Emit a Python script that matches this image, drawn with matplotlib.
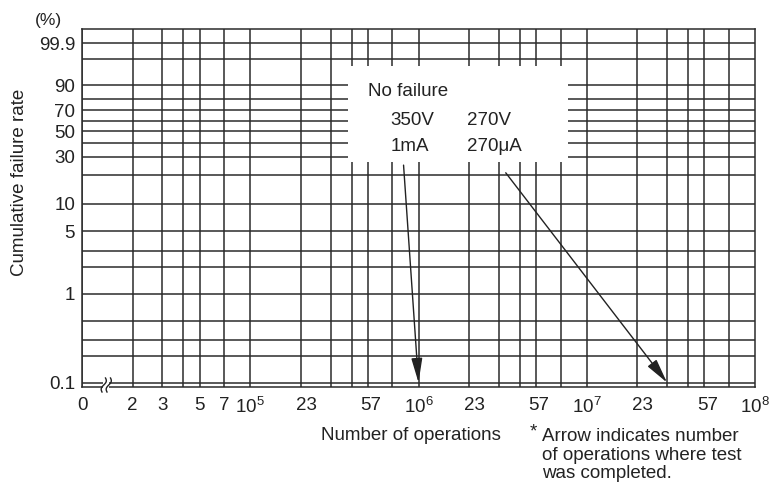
import numpy as np
import matplotlib
matplotlib.use("Agg")
import matplotlib.pyplot as plt
from matplotlib.patches import Rectangle
from matplotlib.ticker import NullLocator

plt.rcParams['font.family'] = ['Liberation Sans', 'DejaVu Sans']
plt.rcParams['mathtext.fontset'] = 'custom'
plt.rcParams['mathtext.rm'] = 'Liberation Sans'
plt.rcParams['mathtext.it'] = 'Liberation Sans:italic'

# y axis: cumulative failure rate (%), Weibull probability paper
y_grid = [99.9, 99, 90, 80, 70, 60, 50, 40, 30, 20, 10, 5, 3, 2, 1, 0.5, 0.3, 0.2, 0.1]
y_labeled = [99.9, 90, 70, 50, 30, 10, 5, 1, 0.1]
y_limits = (0.089, 99.9953)

# x axis: number of operations (log), grid at 1,2,3,4,5,7 per decade
decades = [1e4, 1e5, 1e6, 1e7]
grid_mult = [2, 3, 4, 5, 7]
x_limits = (1e4, 1e8)
x_tick_pos = [1e4, 2e4, 3e4, 5e4, 7e4, 1e5, 2.15e5, 5.2e5, 1e6, 2.15e6, 5.2e6,
              1e7, 2.15e7, 5.2e7, 1e8]
x_tick_txt = ["0", "2", "3", "5", "7", r"$\mathregular{10^5}$", "23", "57",
              r"$\mathregular{10^6}$", "23", "57", r"$\mathregular{10^7}$", "23", "57",
              r"$\mathregular{10^8}$"]

# arrows: (start x, start %) -> (end x, end %)
arrow_start = [(8.15e5, 25), (3.3e6, 21)]
arrow_end = [(1e6, 0.1), (3e7, 0.1)]


def weibull(p):
    p = np.clip(np.asarray(p, dtype=float), 1e-6, 100 - 1e-7)
    return np.log(-np.log(1 - p / 100))


def weibull_inv(y):
    return 100 * (1 - np.exp(-np.exp(y)))


W, H = 770, 487
LINE = '#2b2b2b'
FS = 13.5

fig = plt.figure(figsize=(7.7, 4.87), dpi=100)
ax = fig.add_axes([82 / W, 100 / H, 673 / W, 358 / H])
ax.set_xscale('log')
ax.set_yscale('function', functions=(weibull, weibull_inv))
ax.set_xlim(*x_limits)
ax.set_ylim(*y_limits)

for d in decades:
    ax.axvline(d, color=LINE, lw=1.1, zorder=0.5)
    for m in grid_mult:
        ax.axvline(d * m, color=LINE, lw=1.1, zorder=0.5)
for v in y_grid:
    ax.axhline(v, color=LINE, lw=1.1, zorder=0.5)

ax.set_xticks(x_tick_pos)
ax.set_xticklabels(x_tick_txt)
ax.set_yticks(y_labeled)
ax.set_yticklabels([str(v) for v in y_labeled])
ax.xaxis.set_minor_locator(NullLocator())
ax.yaxis.set_minor_locator(NullLocator())
ax.tick_params(axis='both', length=0, labelsize=FS, colors='#222')
ax.tick_params(axis='x', pad=7)
ax.tick_params(axis='y', pad=5)
for s in ax.spines.values():
    s.set_color(LINE)
    s.set_linewidth(1.1)

# white label box over the grid
ax.add_patch(Rectangle((0.395, 0.628), 0.327, 0.269, transform=ax.transAxes,
                       facecolor='white', edgecolor='none', zorder=1))
ax.text(0.425, 0.825, "No failure", transform=ax.transAxes, fontsize=FS,
        va='center', ha='left', color='#222', zorder=4)
ax.text(0.458, 0.744, "350V", transform=ax.transAxes, fontsize=FS,
        va='center', ha='left', color='#222', zorder=4)
ax.text(0.572, 0.744, "270V", transform=ax.transAxes, fontsize=FS,
        va='center', ha='left', color='#222', zorder=4)
ax.text(0.458, 0.671, "1mA", transform=ax.transAxes, fontsize=FS,
        va='center', ha='left', color='#222', zorder=4)
ax.text(0.572, 0.671, "270\u03bcA", transform=ax.transAxes, fontsize=FS,
        va='center', ha='left', color='#222', zorder=4)

for start, end in zip(arrow_start, arrow_end):
    ax.annotate('', xy=end, xytext=start,
                arrowprops=dict(arrowstyle='-|>,head_length=0.75,head_width=0.17',
                                mutation_scale=20, color='#222', lw=1.0,
                                shrinkA=0, shrinkB=0),
                zorder=5)

# axis break mark at the lower left
fig.patches.append(Rectangle((103.5 / W, 1 - 390 / H), 6 / W, 11 / H,
                             transform=fig.transFigure, facecolor='white',
                             edgecolor='none', zorder=3))
t = np.linspace(0, 1, 40)
for off in (0, 5):
    px = 102 + off + 3.5 * t - 1.6 * np.sin(2 * np.pi * t)
    py = 392 - 14 * t
    fig.add_artist(plt.Line2D(px / W, 1 - py / H, color='#222', lw=1.0,
                              transform=fig.transFigure, zorder=4))

fig.text(48 / W, 1 - 20 / H, "(%)", fontsize=FS - 1, ha='center', va='center', color='#222')
fig.text(20 / W, 1 - 182 / H, "Cumulative failure rate", fontsize=FS, rotation=90,
         ha='center', va='center', color='#222')
fig.text(411 / W, 1 - 436 / H, "Number of operations", fontsize=FS,
         ha='center', va='center', color='#222')
fig.text(530 / W, 1 - 432 / H, "*", fontsize=FS, ha='left', va='center', color='#222')
fig.text(542 / W, 1 - 455 / H, "Arrow indicates number\nof operations where test\nwas completed.",
         fontsize=FS, ha='left', va='center', linespacing=1.15, color='#222')

fig.savefig("out.png", dpi=100)
